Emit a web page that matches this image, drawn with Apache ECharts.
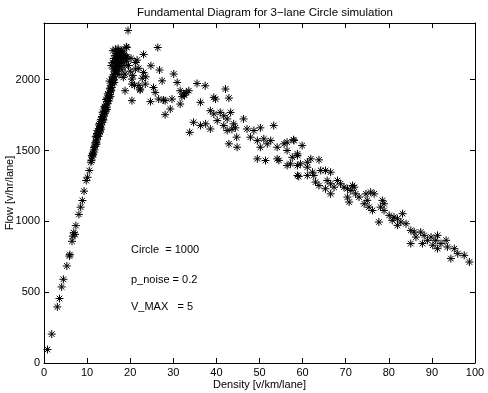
<!DOCTYPE html>
<html>
<head>
<meta charset="utf-8">
<script src="https://cdn.jsdelivr.net/npm/echarts@6/dist/echarts.min.js"></script>
<style>html,body{margin:0;padding:0;background:#fff}#c{width:488px;height:393px}</style>
</head>
<body>
<div id="c"></div>
<script>
// ---- data (density [v/km/lane], flow [v/hr/lane]) ----
var titleText = 'Fundamental Diagram for 3\u2212lane Circle simulation';
var xLabel = 'Density [v/km/lane]';
var yLabel = 'Flow [v/hr/lane]';
var annotations = ['Circle  = 1000', 'p_noise = 0.2', 'V_MAX   = 5'];
var xTicks = [0, 10, 20, 30, 40, 50, 60, 70, 80, 90, 100];
var yTicks = [0, 500, 1000, 1500, 2000];

var lowDensityPoints = [
  [0.8, 95], [1.8, 204], [3.1, 396], [3.6, 455], [4.1, 537], [4.5, 591],
  [5.3, 685], [5.9, 755], [6.0, 765], [6.5, 859], [6.7, 895], [6.9, 920],
  [7.2, 908], [7.4, 970], [8.1, 1049], [8.5, 1100], [8.9, 1147], [9.3, 1213],
  [9.8, 1288], [10.1, 1311], [10.5, 1359], [10.9, 1417]
];

var bandPoints = [
  [11.0, 1430], [11.2, 1455], [11.3, 1480], [11.5, 1490], [11.6, 1520], [11.8, 1530],
  [11.9, 1555], [12.1, 1560], [12.2, 1590], [12.3, 1575], [12.4, 1610], [12.5, 1600],
  [12.6, 1630], [12.7, 1620], [12.8, 1655], [12.9, 1640], [13.0, 1670], [13.1, 1660],
  [13.2, 1690], [13.3, 1680], [13.4, 1715], [13.5, 1700], [13.6, 1735], [13.7, 1720],
  [13.8, 1755], [13.9, 1745], [14.0, 1775], [14.1, 1760], [14.2, 1800], [14.3, 1785],
  [14.4, 1820], [14.5, 1805], [14.6, 1845], [14.7, 1830], [14.8, 1865], [14.9, 1850],
  [15.0, 1890], [15.1, 1870], [15.2, 1910], [15.3, 1895], [15.4, 1935], [15.5, 1920],
  [15.6, 1960], [15.7, 1945], [15.8, 1985], [15.9, 1970], [16.0, 2010], [16.1, 1995],
  [16.2, 2035], [16.3, 2020], [16.4, 2060], [16.5, 2045], [16.6, 2085], [16.7, 2070],
  [16.8, 2110], [16.9, 2095], [17.0, 2130], [17.1, 2115], [17.2, 2150], [17.3, 2140],
  [17.5, 2165], [17.6, 2150], [17.8, 2175], [18.0, 2160], [18.2, 2180], [18.4, 2170],
  [15.9, 2120], [16.2, 2150], [16.5, 2170], [16.8, 2185], [17.1, 2195], [17.4, 2190],
  [17.7, 2200], [18.0, 2205], [18.3, 2195], [17.0, 2060], [17.5, 2090], [18.0, 2120],
  [18.5, 2140], [17.4, 2035], [18.1, 2070], [18.8, 2100], [19.2, 2130], [16.0, 2205],
  [16.6, 2215], [17.2, 2220], [15.6, 2100], [15.2, 1990], [14.8, 1900], [14.4, 1860],
  [14.0, 1810], [13.6, 1770], [13.2, 1720], [12.8, 1680], [12.4, 1640], [12.0, 1600],
  [14.6, 1790], [15.4, 1880], [16.3, 1980], [13.0, 1630], [12.2, 1545],
  [11.1, 1465], [11.4, 1470], [11.7, 1505], [12.0, 1545], [12.3, 1620], [12.6, 1600],
  [12.9, 1690], [13.2, 1650], [13.5, 1740], [13.8, 1715], [14.1, 1800], [14.4, 1790],
  [14.7, 1870], [15.0, 1850], [15.3, 1940], [15.6, 1925], [15.9, 2020], [16.2, 2000],
  [16.5, 2100], [16.8, 2060], [17.1, 2160], [17.4, 2120], [17.7, 2140], [18.3, 2150],
  [16.1, 2075], [16.4, 2130], [16.7, 2150], [17.9, 2100], [18.6, 2175], [19.0, 2160]
];

var congestedPoints = [
  [18.4, 2016], [18.8, 2040], [19.1, 2232], [19.5, 2347], [20.4, 1969], [20.4, 2004],
  [21.2, 2075], [21.2, 2121], [21.6, 2138], [22.3, 1927], [22.3, 1934], [18.8, 1922],
  [20.4, 1852], [23.1, 2178], [23.1, 2051], [23.5, 1969], [24.8, 2098], [24.7, 1845],
  [25.4, 1945], [25.8, 1910], [26.4, 2227], [26.8, 2068], [27.4, 1992], [26.6, 1863],
  [28.1, 1852], [29.7, 1863], [29.3, 1793], [28.1, 1753], [30.1, 2040], [30.9, 1980],
  [31.6, 1922], [32.4, 1899], [33.6, 1922], [32.6, 1890], [33.0, 1910], [32.0, 1880],
  [31.6, 1828], [35.5, 1973], [37.4, 1957], [36.3, 1840], [39.4, 1875], [39.8, 1863],
  [42.1, 1934], [42.9, 1870], [38.6, 1781], [39.4, 1758], [40.9, 1769], [43.3, 1769],
  [41.7, 1745], [42.5, 1723], [46.3, 1723], [33.8, 1628], [34.7, 1699], [36.3, 1676],
  [37.5, 1688], [38.6, 1652], [40.2, 1711], [41.7, 1676], [42.5, 1641], [44.0, 1688],
  [44.7, 1594], [42.9, 1547], [44.8, 1523], [44.4, 1660], [43.6, 1650], [47.1, 1652],
  [48.7, 1641], [50.2, 1660], [47.9, 1594], [49.5, 1570], [51.0, 1582], [52.6, 1570],
  [51.8, 1547], [53.3, 1676], [50.2, 1523], [49.5, 1441], [51.4, 1429], [54.1, 1441],
  [54.5, 1430], [54.1, 1523], [55.7, 1547], [56.4, 1500], [58.0, 1570], [58.8, 1476],
  [56.4, 1559], [57.9, 1576], [59.9, 1535], [57.6, 1452], [58.8, 1464], [56.4, 1394],
  [57.2, 1406], [58.8, 1394], [59.5, 1406], [61.1, 1417], [59.1, 1317], [58.8, 1324],
  [61.9, 1441], [63.8, 1434], [61.1, 1382], [62.3, 1347], [61.1, 1324], [62.6, 1324],
  [64.2, 1359], [65.3, 1359], [66.5, 1347], [63.0, 1277], [63.8, 1253], [65.7, 1288],
  [66.5, 1265], [68.1, 1288], [68.8, 1265], [67.3, 1241], [65.3, 1230], [66.5, 1194],
  [69.6, 1241], [70.4, 1230], [71.2, 1218], [72.0, 1241], [72.3, 1194], [70.4, 1171],
  [70.8, 1136], [71.6, 1253], [73.1, 1171], [74.7, 1194], [75.8, 1206], [76.6, 1194],
  [75.0, 1148], [74.3, 1124], [75.4, 1100], [76.2, 1077], [78.5, 1148], [78.9, 1124],
  [78.1, 1100], [78.9, 1077], [77.7, 995], [80.1, 1042], [81.2, 1030], [82.0, 1018],
  [83.2, 1054], [82.8, 995], [84.0, 983], [82.0, 972], [80.8, 1007], [85.1, 936],
  [85.9, 924], [86.3, 889], [87.4, 924], [88.2, 901], [89.0, 866], [87.8, 843],
  [85.1, 843], [89.8, 889], [90.9, 866], [91.3, 901], [92.1, 843], [93.3, 866],
  [93.6, 819], [91.3, 807], [90.2, 831], [95.2, 807], [96.0, 772], [94.4, 737],
  [97.5, 760], [98.7, 713],
  [19.6, 2100], [20.0, 2060], [20.6, 2030], [19.3, 2160], [20.2, 2150], [22.0, 2080],
  [22.8, 2010], [23.6, 2020], [21.0, 1960], [22.0, 1960], [27.7, 1857], [19.2, 2227]
];

// ---- chart ----
var FONT = 'Liberation Sans, Arial, Helvetica, sans-serif';
var asterisk = 'path://M0 -10 L0 10 M-10 0 L10 0 M-7 -7 L7 7 M-7 7 L7 -7';
var allPoints = lowDensityPoints.concat(bandPoints, congestedPoints);

function axisBase(extra) {
  var base = {
    type: 'value',
    axisLine: { show: true, onZero: false, lineStyle: { color: '#000', width: 1 } },
    axisTick: { show: true, inside: true, length: 5, lineStyle: { color: '#000' } },
    splitLine: { show: false },
    axisLabel: { color: '#000', fontSize: 11, fontFamily: FONT },
    nameMoveOverlap: false,
    nameTextStyle: { color: '#000', fontSize: 11, fontFamily: FONT }
  };
  for (var k in extra) base[k] = extra[k];
  return base;
}

var chart = echarts.init(document.getElementById('c'), null, { renderer: 'canvas' });
chart.setOption({
  animation: false,
  backgroundColor: '#fff',
  title: {
    text: titleText, left: 260, top: 2, textAlign: 'center',
    textStyle: { color: '#000', fontSize: 11.5, fontWeight: 'normal', fontFamily: FONT }
  },
  grid: { left: 44, right: 13, top: 23, bottom: 30, containLabel: false, outerBoundsMode: 'none' },
  xAxis: [
    axisBase({ position: 'bottom', min: xTicks[0], max: xTicks[xTicks.length - 1], interval: xTicks[1] - xTicks[0],
      name: xLabel, nameLocation: 'middle', nameGap: 16,
      axisLabel: { color: '#000', fontSize: 11, fontFamily: FONT, margin: 4 } }),
    axisBase({ position: 'top', min: xTicks[0], max: xTicks[xTicks.length - 1], interval: xTicks[1] - xTicks[0],
      axisLabel: { show: false } })
  ],
  yAxis: [
    axisBase({ position: 'left', min: 0, max: 2400, interval: yTicks[1] - yTicks[0],
      name: yLabel, nameLocation: 'middle', nameGap: 29,
      axisLabel: { color: '#000', fontSize: 11, fontFamily: FONT, margin: 4, showMaxLabel: false,
        formatter: function (v) { return yTicks.indexOf(v) >= 0 ? String(v) : ''; } } }),
    axisBase({ position: 'right', min: 0, max: 2400, interval: yTicks[1] - yTicks[0],
      axisLabel: { show: false } })
  ],
  graphic: [
    { type: 'text', left: 131, top: 244, style: { text: annotations[0], fill: '#000', font: '11px ' + FONT } },
    { type: 'text', left: 131, top: 274, style: { text: annotations[1], fill: '#000', font: '11px ' + FONT } },
    { type: 'text', left: 131, top: 301, style: { text: annotations[2], fill: '#000', font: '11px ' + FONT } }
  ],
  series: [{
    type: 'scatter',
    xAxisIndex: 0, yAxisIndex: 0,
    data: allPoints,
    symbol: asterisk,
    symbolSize: 8,
    symbolKeepAspect: true,
    itemStyle: { color: 'rgba(0,0,0,0)', borderColor: '#000', borderWidth: 1, opacity: 1 },
    emphasis: { disabled: true }
  }]
});
</script>
</body>
</html>
